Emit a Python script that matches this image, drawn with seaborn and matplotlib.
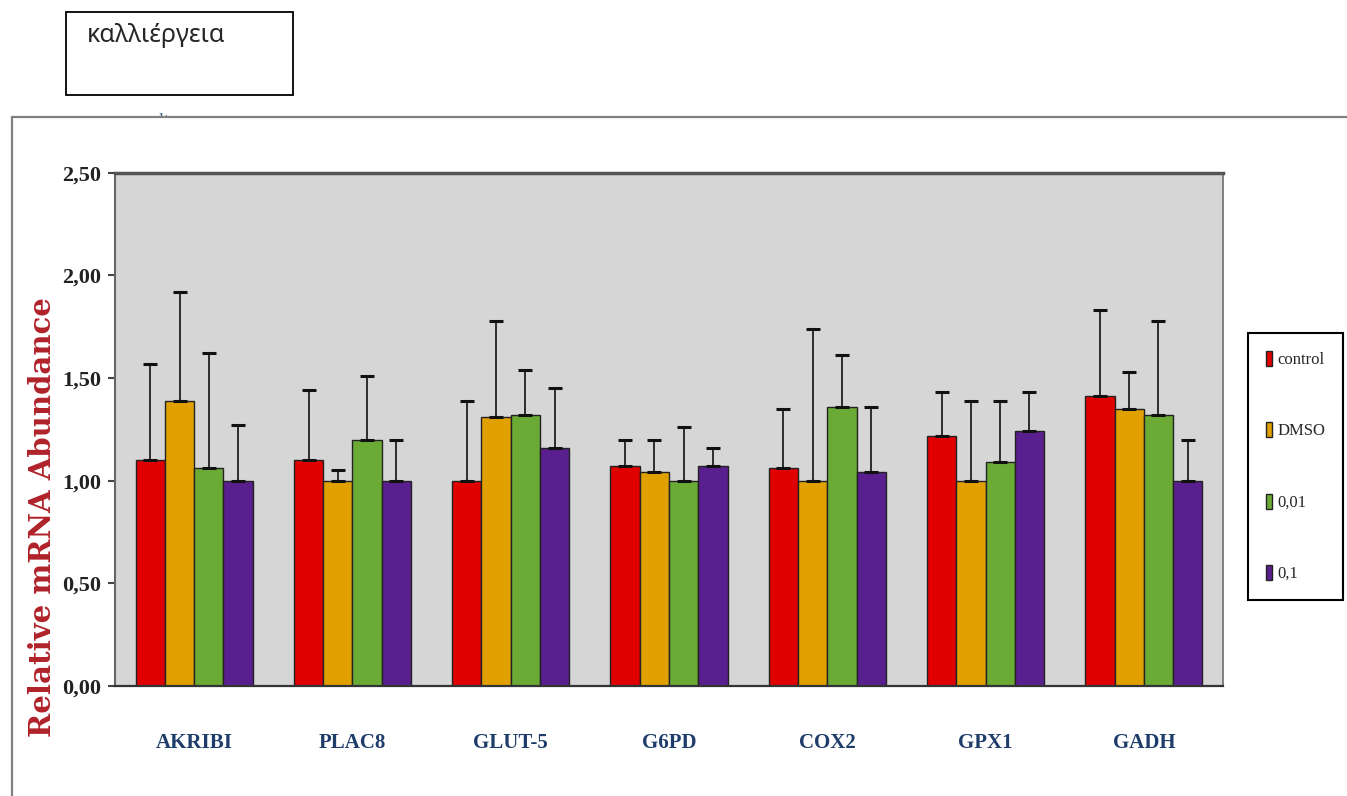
import matplotlib
matplotlib.use("Agg")
import matplotlib.pyplot as plt
from matplotlib.patches import Rectangle
import seaborn as sns
import pandas as pd

# data
genes = ["AKRIBI", "PLAC8", "GLUT-5", "G6PD", "COX2", "GPX1", "GADH"]
groups = ["control", "DMSO", "0,01", "0,1"]

control = [1.10, 1.10, 1.00, 1.07, 1.06, 1.22, 1.41]
dmso = [1.39, 1.00, 1.31, 1.04, 1.00, 1.00, 1.35]
c001 = [1.06, 1.20, 1.32, 1.00, 1.36, 1.09, 1.32]
c01 = [1.00, 1.00, 1.16, 1.07, 1.04, 1.24, 1.00]

# upper error bars only
control_err = [0.47, 0.34, 0.39, 0.13, 0.29, 0.21, 0.42]
dmso_err = [0.53, 0.05, 0.47, 0.16, 0.74, 0.39, 0.18]
c001_err = [0.56, 0.31, 0.22, 0.26, 0.25, 0.30, 0.46]
c01_err = [0.27, 0.20, 0.29, 0.09, 0.32, 0.19, 0.20]

y_ticks = [0, 0.5, 1.0, 1.5, 2.0, 2.5]
y_tick_labels = ["0,00", "0,50", "1,00", "1,50", "2,00", "2,50"]

colors = ["#e00000", "#e0a000", "#6aaa35", "#5a1f8e"]

values = [control, dmso, c001, c01]
errors = [control_err, dmso_err, c001_err, c01_err]

df = pd.DataFrame({
    "gene": genes * 4,
    "group": [g for g in groups for _ in genes],
    "value": control + dmso + c001 + c01,
})

sns.set_style("white")

fig = plt.figure(figsize=(13.47, 7.96), dpi=100)

# outer panel of the screenshot, with the half hidden "culture" text
fig.text(0.106, 1 - 126 / 796, "culture", fontsize=13, color="#3b5b8c",
         family="Liberation Serif", va="baseline", zorder=0.5)
fig.add_artist(Rectangle((12 / 1347, -0.02), 1.1, (796 - 117) / 796 + 0.02,
                         transform=fig.transFigure, facecolor="white",
                         edgecolor="#808080", linewidth=1.6, zorder=1))

# text box in the top left corner
fig.add_artist(Rectangle((66 / 1347, 1 - 95 / 796), 227 / 1347, 83 / 796,
                         transform=fig.transFigure, facecolor="white",
                         edgecolor="black", linewidth=1.3, zorder=3))
fig.text(87 / 1347, 1 - 35 / 796, "καλλιέργεια", fontsize=18,
         family="Noto Sans", va="center", ha="left", zorder=4)

ax = fig.add_axes([115 / 1347, 110 / 796, 1108 / 1347, 513.3 / 796])
ax.set_zorder(2)
ax.set_facecolor("#d6d6d6")

sns.barplot(data=df, x="gene", y="value", hue="group", palette=colors,
            width=0.74, edgecolor="#222222", linewidth=1, saturation=1,
            errorbar=None, ax=ax)

for cont, err in zip(ax.containers, errors):
    xs = [b.get_x() + b.get_width() / 2 for b in cont]
    ys = [b.get_height() for b in cont]
    ax.errorbar(xs, ys, yerr=[[0] * len(err), err], fmt="none",
                ecolor="#111111", elinewidth=1.2, capsize=5, capthick=2.2,
                zorder=3)

ax.set_ylim(0, 2.5)
ax.set_xlim(-0.5, len(genes) - 0.5)
ax.set_yticks(y_ticks)
ax.set_yticklabels(y_tick_labels, family="Liberation Serif",
                   fontweight="bold", fontsize=16, color="#222222")
ax.set_xticks(range(len(genes)))
ax.set_xticklabels(genes, family="Liberation Serif", fontweight="bold",
                   fontsize=15, color="#1f3d6b")
ax.set_xticks([i - 0.5 for i in range(len(genes) + 1)], minor=True)
ax.tick_params(axis="x", which="major", length=0, pad=34)
ax.tick_params(axis="x", which="minor", length=7, width=1.2,
               color="#555555", direction="out")
ax.tick_params(axis="y", length=5, width=1.5, color="#444444",
               direction="out", pad=5, left=True)

ax.set_xlabel("")
ax.set_ylabel("Relative mRNA Abundance", family="DejaVu Serif",
              fontweight="bold", fontsize=21, color="#b0222a")
ax.yaxis.set_label_coords(-0.0525, 0.33)

for side, lw, col in [("left", 1.5, "#666666"), ("bottom", 1.6, "#333333"),
                      ("top", 2.5, "#555555"), ("right", 1.3, "#777777")]:
    ax.spines[side].set_visible(True)
    ax.spines[side].set_linewidth(lw)
    ax.spines[side].set_color(col)

handles, labels = ax.get_legend_handles_labels()
leg = ax.legend(handles, labels, loc="center left",
                bbox_to_anchor=(1248 / 1347, (796 - 466.5) / 796),
                bbox_transform=fig.transFigure, borderaxespad=0,
                prop={"family": "Liberation Serif", "size": 12},
                handlelength=0.4, handleheight=1.0, handletextpad=0.3,
                labelspacing=3.25, borderpad=1.05, fancybox=False,
                framealpha=1, edgecolor="black")
leg.get_frame().set_linewidth(1.5)

fig.savefig("out.png", dpi=100)
